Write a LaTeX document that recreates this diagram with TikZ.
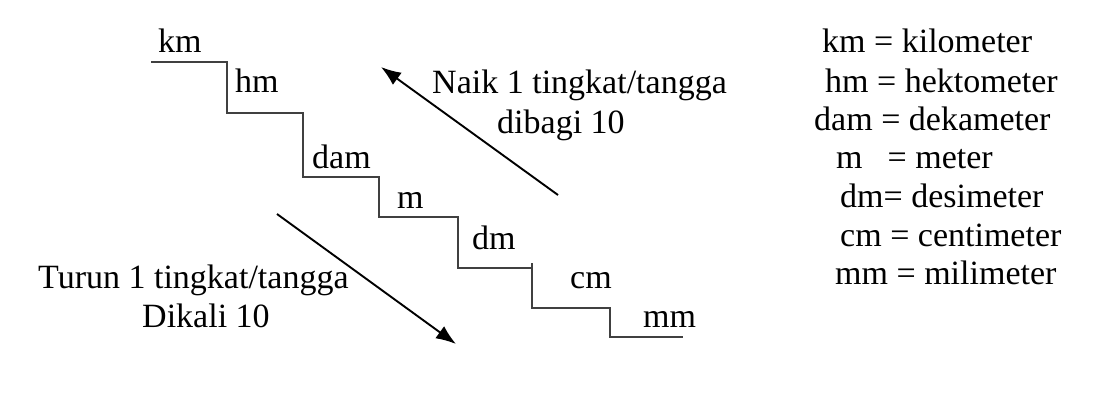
\documentclass[tikz,border=0pt]{standalone}
\usepackage{fontspec}
\setmainfont{Liberation Serif}
\usetikzlibrary{arrows.meta}
\begin{document}
\begin{tikzpicture}[x=1pt,y=-1pt,
  lbl/.style={anchor=base west,inner sep=0pt,font=\fontsize{34}{38}\selectfont,text=black},
  stair/.style={draw=black!75,line width=1.6pt},
  arr/.style={draw=black,line width=1.9pt,-{Latex[length=20pt,width=15pt]}}]
\useasboundingbox (0,0) rectangle (1108,400);
\fill[white] (0,0) rectangle (1108,400);
% staircase
\draw[stair] (151,62) -- (227,62) -- (227,113) -- (303,113) -- (303,177) -- (379,177)
  -- (379,217) -- (458,217) -- (458,268) -- (532,268) -- (532,308) -- (610,308)
  -- (610,337) -- (683,337);
\draw[stair] (532,263) -- (532,268);
% stair labels
\node[lbl] (km) at (158,52) {km};
\node[lbl] (hm) at (235,92) {hm};
\node[lbl] (dam) at (312,168) {dam};
\node[lbl] (m) at (397,208) {m};
\node[lbl] (dm) at (472,249) {dm};
\node[lbl] (cm) at (570,288) {cm};
\node[lbl] (mm) at (643,327) {mm};
% arrows
\coordinate (upS) at (558,195);
\coordinate (upE) at (381,67);
\coordinate (dnS) at (277,214);
\coordinate (dnE) at (456,344);
\draw[arr] (upS) -- (upE);
\draw[arr] (dnS) -- (dnE);
% arrow texts
\node[lbl] (naik) at (432,93) {Naik 1 tingkat/tangga};
\node[lbl] (bagi) at (497,133) {dibagi 10};
\node[lbl] (turun) at (38,288) {Turun 1 tingkat/tangga};
\node[lbl] (kali) at (142,327) {Dikali 10};
% legend
\node[lbl] (l1) at (822,52) {km = kilometer};
\node[lbl] (l2) at (825,92) {hm = hektometer};
\node[lbl] (l3) at (814,130) {dam = dekameter};
\node[lbl] (l4) at (836,168) {m\hspace{25pt}= meter};
\node[lbl] (l5) at (840,207) {dm= desimeter};
\node[lbl] (l6) at (840,246) {cm = centimeter};
\node[lbl] (l7) at (835,284) {mm = milimeter};
\end{tikzpicture}
\end{document}
